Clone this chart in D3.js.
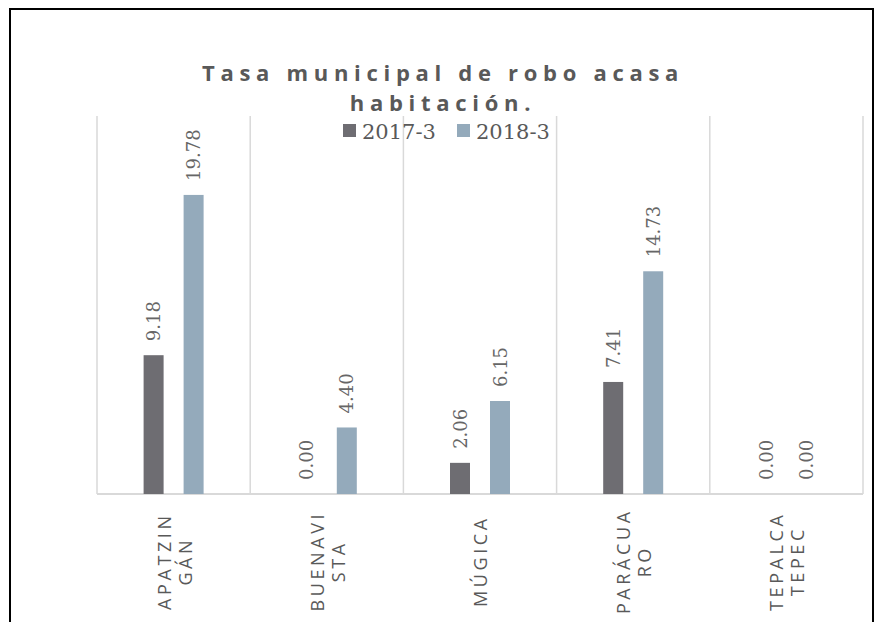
<!DOCTYPE html>
<html>
<head>
<meta charset="utf-8">
<script src="https://cdn.jsdelivr.net/npm/d3@7"></script>
<style>
    body { margin: 0; background: #fff; }
    svg { display: block; }
</style>
</head>
<body>
<div id="chart"></div>
<script>
// datos
var municipios = [["APATZIN", "GÁN"], ["BUENAVI", "STA"], ["MÚGICA"], ["PARÁCUA", "RO"], ["TEPALCA", "TEPEC"]];
var periodos = ["2017-3", "2018-3"];
var tasa2017 = [9.18, 0.00, 2.06, 7.41, 0.00];
var tasa2018 = [19.78, 4.40, 6.15, 14.73, 0.00];
var colores = ["#6e6d72", "#94aabb"];
var titulo = ["Tasa municipal de robo acasa", "habitación."];
var yMax = 25;

var chart = (function () {
    var W = 879, H = 622,
        left = 97, right = 863, top = 116, base = 494;

    var svg = d3.select("#chart").append("svg").attr("width", W).attr("height", H);

    // marco exterior
    svg.append("rect")
        .attr("x", 10).attr("y", 9)
        .attr("width", 863).attr("height", 700)
        .attr("fill", "none").attr("stroke", "#000").attr("stroke-width", 2);

    var x = d3.scaleBand().domain(d3.range(municipios.length)).range([left, right]).paddingInner(0).paddingOuter(0),
        xs = d3.scaleBand().domain(periodos).range([-30, 30]).paddingInner(0.5),
        y = d3.scaleLinear().domain([0, yMax]).range([base, top]);

    // titulo, una linea por elemento
    svg.selectAll(".tit").data(titulo).enter().append("text")
        .attr("class", "tit")
        .attr("x", 443).attr("y", function (d, i) { return 81 + i * 30; })
        .attr("text-anchor", "middle")
        .style("font-family", "'Open Sans', Lato, sans-serif")
        .style("font-weight", 700).style("font-size", "22px")
        .style("letter-spacing", "5.7px")
        .attr("fill", "#595959")
        .text(function (d) { return d; });

    // lineas verticales entre categorias
    var bordes = d3.range(municipios.length + 1).map(function (i) { return left + i * x.step(); });
    svg.selectAll(".grid").data(bordes).enter().append("line")
        .attr("class", "grid")
        .attr("x1", function (d) { return d; }).attr("x2", function (d) { return d; })
        .attr("y1", y(yMax)).attr("y2", y(0))
        .attr("stroke", "#d9d9d9").attr("stroke-width", 1.5);

    svg.append("line")
        .attr("x1", left).attr("x2", right)
        .attr("y1", y(0)).attr("y2", y(0))
        .attr("stroke", "#d9d9d9").attr("stroke-width", 2);

    // leyenda
    var leg = [{ x: 343, t: periodos[0], c: colores[0] }, { x: 457, t: periodos[1], c: colores[1] }];
    var lg = svg.selectAll(".leg").data(leg).enter().append("g").attr("class", "leg");
    lg.append("rect")
        .attr("x", function (d) { return d.x; }).attr("y", 124)
        .attr("width", 13).attr("height", 13)
        .attr("fill", function (d) { return d.c; });
    lg.append("text")
        .attr("x", function (d) { return d.x + 19; }).attr("y", 138.5)
        .style("font-family", "'DejaVu Serif', serif").style("font-size", "21px")
        .attr("fill", "#595959")
        .text(function (d) { return d.t; });

    // barras
    var filas = [];
    municipios.forEach(function (m, i) {
        filas.push({ i: i, p: periodos[0], v: tasa2017[i], c: colores[0] });
        filas.push({ i: i, p: periodos[1], v: tasa2018[i], c: colores[1] });
    });

    var cx = function (d) { return x(d.i) + x.bandwidth() / 2; };

    svg.selectAll(".bar").data(filas).enter().append("rect")
        .attr("class", "bar")
        .attr("x", function (d) { return cx(d) + xs(d.p); })
        .attr("width", xs.bandwidth())
        .attr("y", function (d) { return y(d.v); })
        .attr("height", function (d) { return y(0) - y(d.v); })
        .attr("fill", function (d) { return d.c; });

    // etiquetas de valor
    svg.selectAll(".val").data(filas).enter().append("text")
        .attr("class", "val")
        .attr("transform", function (d) {
            return "translate(" + (cx(d) + xs(d.p) + xs.bandwidth() / 2) + "," + (y(d.v) - 14) + ") rotate(-90)";
        })
        .attr("y", 6.5)
        .style("font-family", "'DejaVu Serif', serif").style("font-size", "18px")
        .attr("fill", "#666")
        .text(function (d) { return d.v.toFixed(2); });

    // etiquetas de categoria
    var cat = svg.selectAll(".cat").data(municipios).enter().append("text")
        .attr("class", "cat")
        .attr("transform", function (d, i) { return "translate(" + (x(i) + x.bandwidth() / 2) + ",563) rotate(-90)"; })
        .attr("text-anchor", "middle")
        .style("font-family", "'Open Sans', Lato, sans-serif").style("font-size", "18px")
        .style("letter-spacing", "3.6px")
        .attr("fill", "#595959");
    cat.selectAll("tspan").data(function (d) {
            return d.map(function (t, j) { return { t: t, n: d.length, j: j }; });
        }).enter().append("tspan")
        .attr("x", 1.8)
        .attr("y", function (d) { return d.n === 1 ? 6.5 : (d.j === 0 ? -3 : 18); })
        .text(function (d) { return d.t; });
})();
</script>
</body>
</html>
